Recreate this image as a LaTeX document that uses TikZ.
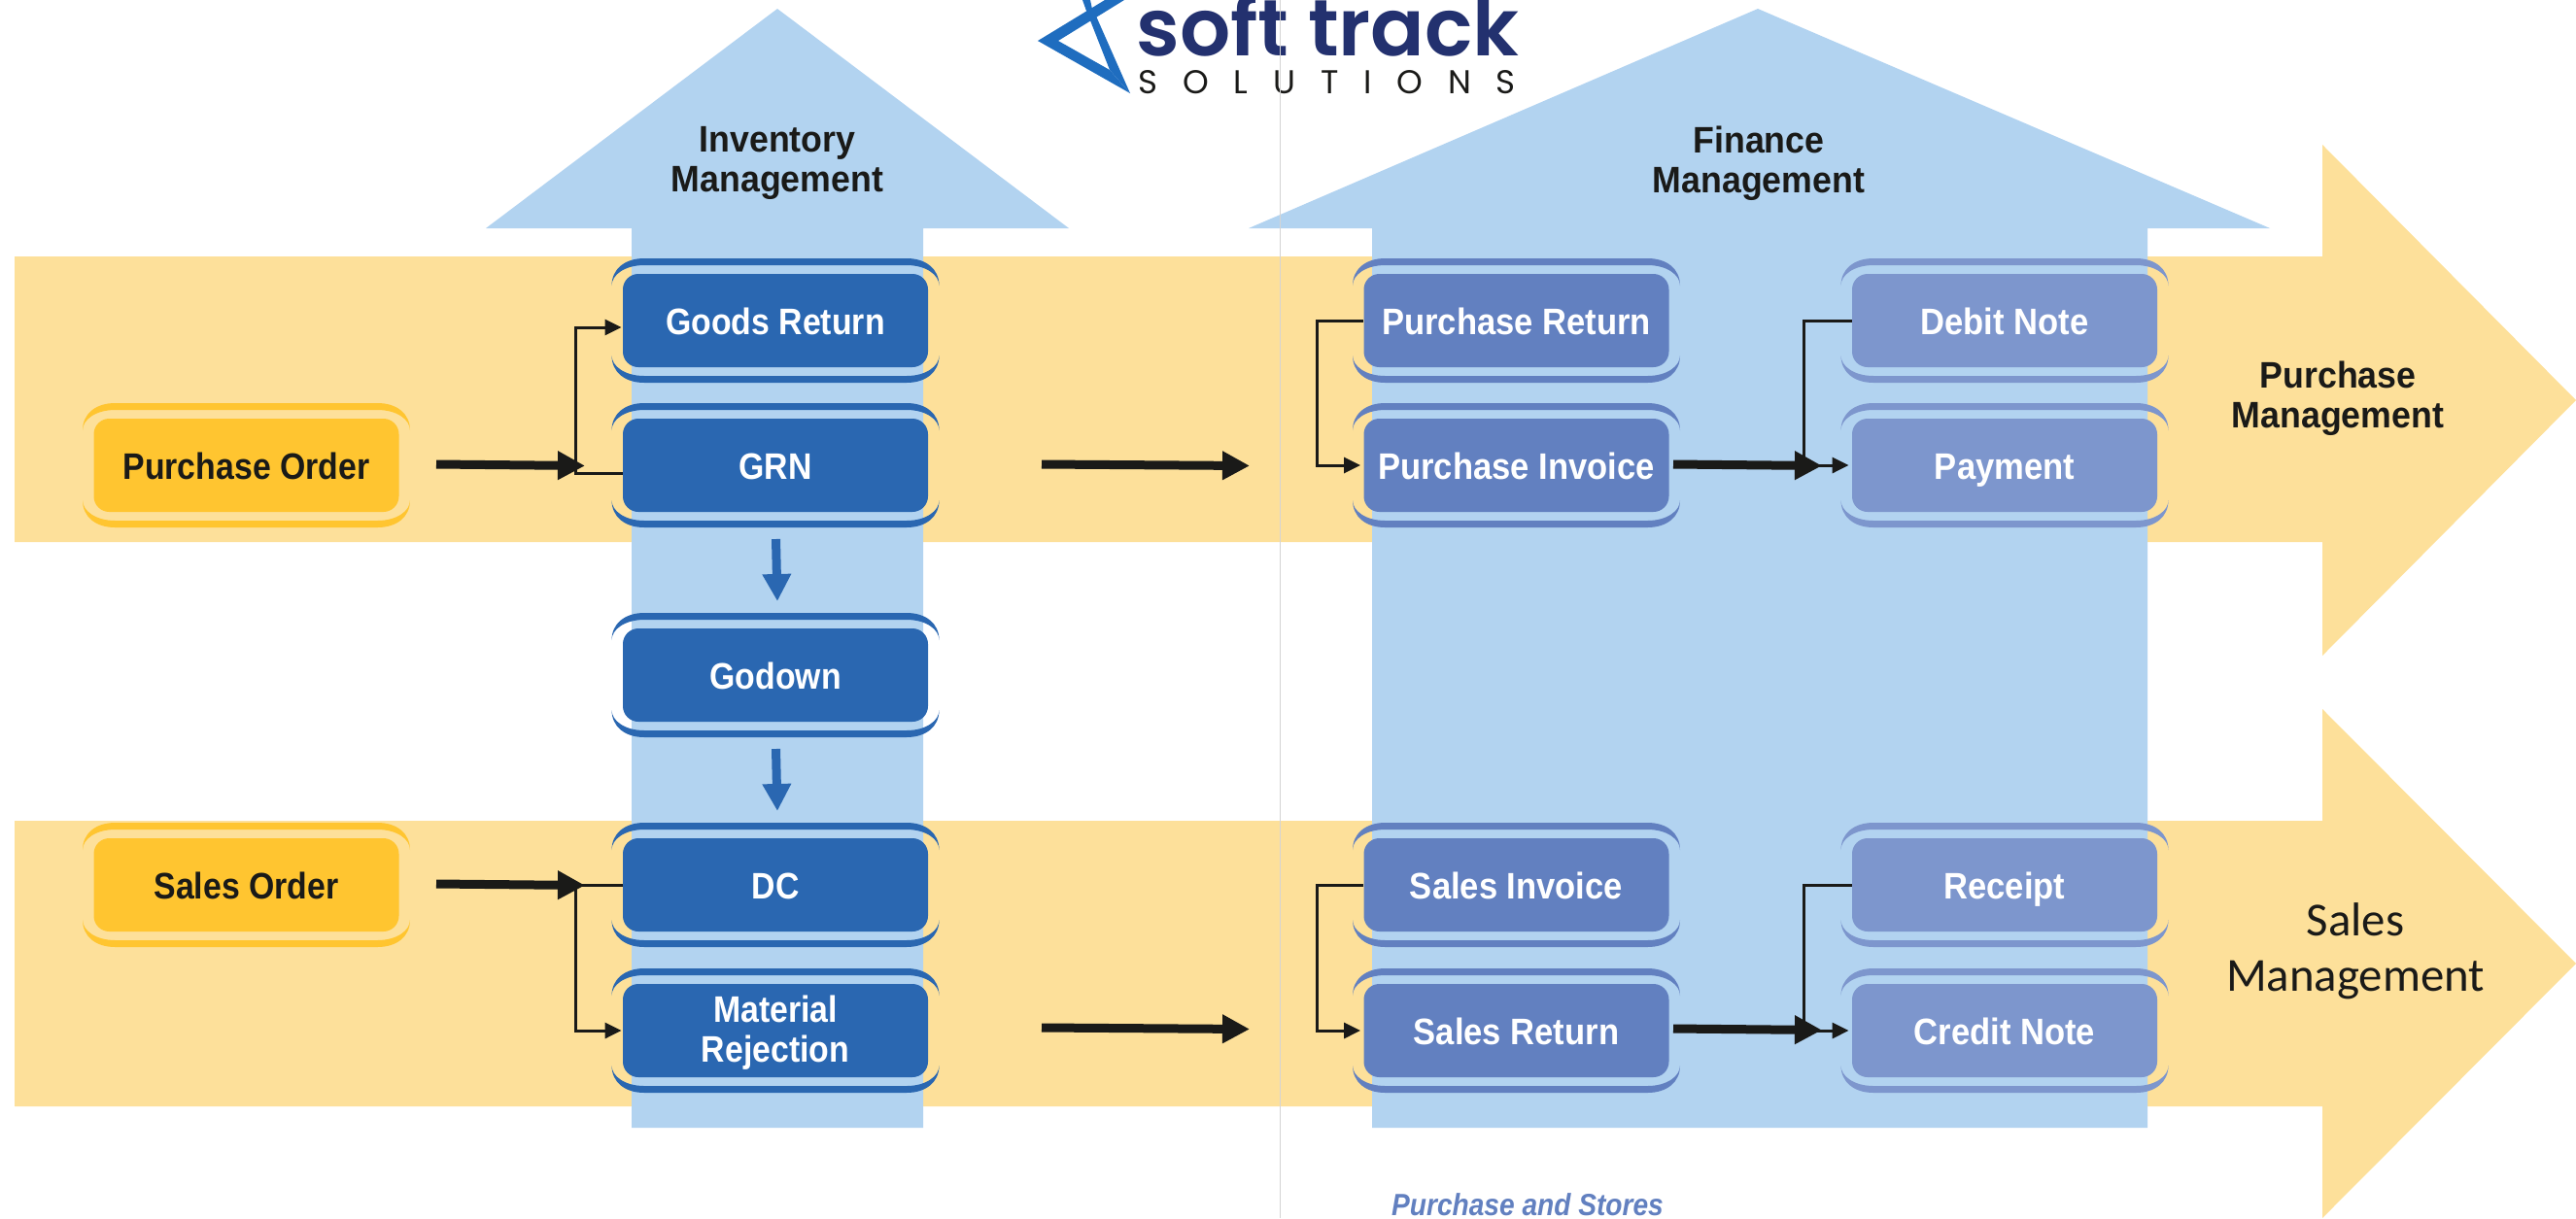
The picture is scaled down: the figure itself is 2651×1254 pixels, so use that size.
\documentclass[tikz,border=0pt]{standalone}
\usepackage{fontspec}
\setmainfont{Liberation Sans}[FakeStretch=0.94]
\newfontfamily\cardfont{Liberation Sans}[FakeStretch=0.89]
\newfontfamily\fincardfont{Liberation Sans}[FakeStretch=0.91]
\newfontfamily\logofont{Poppins}[BoldFont={Poppins SemiBold}]
\newfontfamily\calfont{Carlito}
\usetikzlibrary{arrows.meta,calc}
\definecolor{band}{HTML}{FDE09A}
\definecolor{sky}{HTML}{B2D3F0}
\definecolor{invbox}{HTML}{2A67B1}
\definecolor{finA}{HTML}{6280C0}
\definecolor{finB}{HTML}{7D96CD}
\definecolor{ordbox}{HTML}{FFC530}
\definecolor{ink}{HTML}{1A1A18}
\definecolor{navy}{HTML}{23316F}
\definecolor{logoblue}{HTML}{1F6DBF}
\tikzset{
  x=0.5pt,y=-0.5pt,
  card/.style={rounded corners=8pt,minimum width=157pt,minimum height=48pt,inner sep=0pt,align=center,
    text height=14pt,text depth=0pt,
    font=\cardfont\fontsize{19}{20.5}\selectfont\bfseries,text=white},
  invcard/.style={card,fill=invbox},
  fincardA/.style={card,fill=finA,font=\fincardfont\fontsize{19}{20.5}\selectfont\bfseries},
  fincardB/.style={card,fill=finB,font=\fincardfont\fontsize{19}{20.5}\selectfont\bfseries},
  ordcard/.style={card,fill=ordbox,text=ink},
  heading/.style={inner sep=0pt,align=center,text=ink,font=\fontsize{19}{20.5}\selectfont\bfseries},
  thickarrow/.style={draw=ink,line width=4.5pt,-{Triangle[length=14pt,width=14pt]}},
  thinarrow/.style={draw=ink,line width=1.5pt,-{Triangle[length=8.5pt,width=8pt]}},
  bluearrow/.style={draw=invbox,line width=4.5pt,-{Triangle[length=14pt,width=14pt]}},
}
\newcommand{\brk}[3]{%
  \foreach \s in {1,-1}{
  \begin{scope}[shift={(#1,#2)},yscale=\s]
    \fill[#3] (-168.5,-36) .. controls (-168.5,-53) and (-155,-64) .. (-135,-64) -- (135,-64)
      .. controls (155,-64) and (168.5,-53) .. (168.5,-36)
      .. controls (168.5,-47) and (155,-57) .. (135,-57) -- (-135,-57)
      .. controls (-155,-57) and (-168.5,-47) .. (-168.5,-36) -- cycle;
  \end{scope}}}
\begin{document}
\begin{tikzpicture}
\useasboundingbox (0,0) rectangle (2651,1254);
\clip (0,0) rectangle (2651,1254);
% yellow arrows
\fill[band] (15,264) -- (2390,264) -- (2390,149) -- (2651,412) -- (2390,675) -- (2390,558) -- (15,558) -- cycle;
\fill[band] (15,845) -- (2390,845) -- (2390,730) -- (2651,992) -- (2390,1254) -- (2390,1139) -- (15,1139) -- cycle;
% blue arrows
\fill[sky] (650,1161) -- (650,235) -- (500,235) -- (800,9) -- (1100,235) -- (950,235) -- (950,1161) -- cycle;
\fill[sky] (1412,1161) -- (1412,235) -- (1285,235) -- (1809,9) -- (2336,235) -- (2210,235) -- (2210,1161) -- cycle;
% logo
\fill[logoblue] (1068,42) -- (1137,0) -- (1157,0) -- (1089,42) -- cycle;
\fill[logoblue] (1068,42) -- (1163,96) -- (1142,72) -- (1089,42) -- cycle;
\fill[logoblue] (1163,96) -- (1142,72) -- (1120,16) -- (1126,12) -- cycle;
\fill[logoblue] (1114,0) -- (1122,0) -- (1125,14) -- (1119,14) -- cycle;
\node[anchor=base west,inner sep=0pt,text=navy,font=\logofont\fontsize{41}{41}\selectfont\bfseries] (logotext) at (1169,57) {soft track};
\node[anchor=base west,inner sep=0pt,text=ink,font=\logofont\fontsize{17}{17}\selectfont\addfontfeature{LetterSpace=76}] (logosub) at (1171,96) {SOLUTIONS};
% thin vertical line
\draw[color=black!17,line width=0.5pt] (1317.5,0) -- (1317.5,1254);
% brackets
\brk{253.5}{479}{ordbox}\brk{253.5}{911}{ordbox}
\brk{798}{330}{invbox}\brk{798}{479}{invbox}\brk{798}{695}{invbox}\brk{798}{911}{invbox}\brk{798}{1061}{invbox}
\brk{1560.5}{330}{finA}\brk{1560.5}{479}{finA}\brk{1560.5}{911}{finA}\brk{1560.5}{1061}{finA}
\brk{2063}{330}{finB}\brk{2063}{479}{finB}\brk{2063}{911}{finB}\brk{2063}{1061}{finB}
% cards
\node[ordcard] (po) at (253.5,479) {Purchase Order};
\node[ordcard] (so) at (253.5,911) {Sales Order};
\node[invcard] (gr) at (798,330) {Goods Return};
\node[invcard] (grn) at (798,479) {GRN};
\node[invcard] (gd) at (798,695) {Godown};
\node[invcard] (dc) at (798,911) {DC};
\node[invcard,text height=32pt] (mr) at (798,1061) {Material\\Rejection};
\node[fincardA] (pr) at (1560.5,330) {Purchase Return};
\node[fincardA] (pi) at (1560.5,479) {Purchase Invoice};
\node[fincardA] (si) at (1560.5,911) {Sales Invoice};
\node[fincardA] (sr) at (1560.5,1061) {Sales Return};
\node[fincardB] (dn) at (2063,330) {Debit Note};
\node[fincardB] (pay) at (2063,479) {Payment};
\node[fincardB] (rc) at (2063,911) {Receipt};
\node[fincardB] (cn) at (2063,1061) {Credit Note};
% headings
\node[heading] (invh) at (800,168) {Inventory\\Management};
\node[heading] (finh) at (1810,168) {Finance\\Management};
\node[heading] (purh) at (2406,410) {Purchase\\Management};
\node[inner sep=0pt,align=center,text=ink,font=\calfont\fontsize{24.4}{28.5}\selectfont] (salh) at (2424,979) {Sales\\Management};
\node[inner sep=0pt,text=finA,font=\cardfont\fontsize{15.8}{16}\selectfont\bfseries\itshape] (ps) at (1572,1240) {Purchase and Stores};
% thin connectors
\draw[thinarrow] ($(grn.west)+(0,8)$) -| ($(gr.west)+(-48,7)$) -- ($(gr.west)+(-1,7)$);
\draw[thinarrow] (dc.west) -| ($(mr.west)+(-48,0)$) -- ($(mr.west)+(-1,0)$);
\draw[thinarrow] (pr.west) -| ($(pi.west)+(-48,0)$) -- ($(pi.west)+(-3,0)$);
\draw[thinarrow] (si.west) -| ($(sr.west)+(-48,0)$) -- ($(sr.west)+(-3,0)$);
\draw[thinarrow] (dn.west) -| ($(pay.west)+(-49,0)$) -- ($(pay.west)+(-3,0)$);
\draw[thinarrow] (rc.west) -| ($(cn.west)+(-49,0)$) -- ($(cn.west)+(-3,0)$);
% thick connectors
\coordinate (a1) at (449,478); \coordinate (a2) at (602,479.5);
\coordinate (b1) at (449,910); \coordinate (b2) at (602,911.5);
\coordinate (c1) at (1072,478); \coordinate (c2) at (1286,479.5);
\coordinate (d1) at (1072,1058); \coordinate (d2) at (1286,1059.5);
\coordinate (e1) at (1722,478); \coordinate (e2) at (1875,479.5);
\coordinate (f1) at (1722,1059); \coordinate (f2) at (1875,1060.5);
\draw[thickarrow] (a1) -- (a2);
\draw[thickarrow] (b1) -- (b2);
\draw[thickarrow] (c1) -- (c2);
\draw[thickarrow] (d1) -- (d2);
\draw[thickarrow] (e1) -- (e2);
\draw[thickarrow] (f1) -- (f2);
% blue connectors
\coordinate (g1) at (798.5,555); \coordinate (g2) at (800,619);
\coordinate (h1) at (798.5,771); \coordinate (h2) at (800,835);
\draw[bluearrow] (g1) -- (g2);
\draw[bluearrow] (h1) -- (h2);
\end{tikzpicture}
\end{document}
